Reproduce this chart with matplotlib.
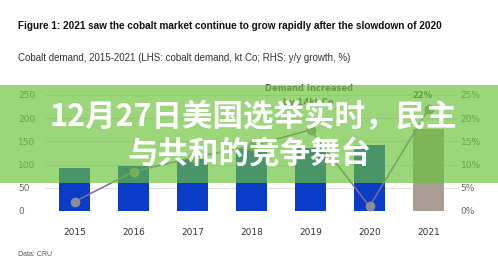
import matplotlib.pyplot as plt
from matplotlib.patches import Rectangle
import numpy as np

years = ['2015', '2016', '2017', '2018', '2019', '2020', '2021']
demand = [93, 97, 112, 133, 135, 143, 176]      # kt Co (LHS)
growth = [2.0, 8.5, 11.5, 14.0, 17.5, 1.0, 22.0]  # y/y growth, % (RHS)
bar_colors = ['#0a3cc8'] * 6 + ['#a89c94']

fig = plt.figure(figsize=(4.98, 2.70), dpi=100)
fig.patch.set_facecolor('white')

ax = fig.add_axes([45 / 498, 59 / 270, 413 / 498, 116 / 270])
x = np.arange(len(years))
ax.bar(x, demand, width=0.51, color=bar_colors, zorder=2)
ax.set_xlim(-0.5, 6.5)
ax.set_ylim(0, 250)
ax.set_yticks([0, 50, 100, 150, 200, 250])
ax.grid(axis='y', color='#e2e2e2', linewidth=0.8, zorder=0)
ax.set_xticks(x)
ax.set_xticklabels(years)
for s in ax.spines.values():
    s.set_visible(False)
ax.tick_params(axis='x', length=0, pad=12, labelsize=6.5, labelcolor='#333333')
ax.tick_params(axis='y', length=0, pad=19.5, labelsize=6.5, labelcolor='#666666')
for lab in ax.get_yticklabels():
    lab.set_ha('left')

ax2 = ax.twinx()
ax2.plot(x, growth, color='#7a6e9a', linewidth=1.1, marker='o', markersize=6,
         markerfacecolor='#8c8c9c', markeredgecolor='#8c8c9c', zorder=3)
ax2.set_ylim(0, 25)
ax2.set_yticks([0, 5, 10, 15, 20, 25])
ax2.set_yticklabels(['0%', '5%', '10%', '15%', '20%', '25%'])
for s in ax2.spines.values():
    s.set_visible(False)
ax2.tick_params(axis='y', length=0, pad=2, labelsize=6.5, labelcolor='#666666')

ax.text(3.97, 249, 'Demand increased\nby 14kt Co', ha='center', va='center',
        fontsize=6, fontweight='bold', color='#555555', linespacing=1.6)
ax.text(5.9, 249, '22%', ha='center', va='center', fontsize=6,
        fontweight='bold', color='#555555')

fig.text(18 / 498, 1 - 26 / 270,
         'Figure 1: 2021 saw the cobalt market continue to grow rapidly after the slowdown of 2020',
         ha='left', va='center', fontsize=7.2, fontweight='bold', color='#111111',
         family='Liberation Sans')
fig.text(18 / 498, 1 - 58 / 270,
         'Cobalt demand, 2015-2021 (LHS: cobalt demand, kt Co; RHS: y/y growth, %)',
         ha='left', va='center', fontsize=7.05, color='#333333', family='Liberation Sans')
fig.text(18 / 498, 1 - 254 / 270, 'Data: CRU', ha='left', va='center',
         fontsize=5, color='#555555', family='Liberation Sans')

# green banner over the chart
fig.patches.append(Rectangle((0, 1 - 183 / 270), 1, 98 / 270, transform=fig.transFigure,
                             facecolor='#6ac239', alpha=0.67, edgecolor='none', zorder=5))
cjk = ['Noto Sans CJK SC', 'DejaVu Sans']
fig.text(253 / 498, 1 - 117 / 270, '12月27日美国选举实时，民主', ha='center', va='center',
         fontsize=22, fontweight='bold', color='white', family=cjk, zorder=6)
fig.text(249 / 498, 1 - 153 / 270, '与共和的竞争舞台', ha='center', va='center',
         fontsize=22, fontweight='bold', color='white', family=cjk, zorder=6)

fig.savefig('out.png', dpi=100)
